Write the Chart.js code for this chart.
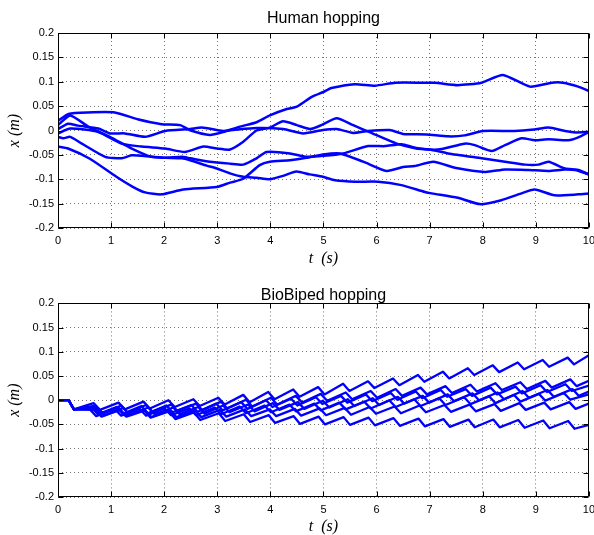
<!DOCTYPE html>
<html>
<head>
<meta charset="utf-8">
<script src="https://cdn.jsdelivr.net/npm/chart.js@4.4.0/dist/chart.umd.min.js"></script>
<style>
  html, body { margin: 0; padding: 0; background: #fff; overflow: hidden; }
  .box { position: absolute; left: 0; width: 601px; height: 270px; }
</style>
</head>
<body>
<div class="box" style="top:0"><canvas id="human" width="601" height="270"></canvas></div>
<div class="box" style="top:268px"><canvas id="biped" width="601" height="270"></canvas></div>
<script>
// =====================
// 資料
// =====================
const timeTicks = [0, 1, 2, 3, 4, 5, 6, 7, 8, 9, 10];
const posTicks = [-0.2, -0.15, -0.1, -0.05, 0, 0.05, 0.1, 0.15, 0.2];
const posTickLabels = ['-0.2', '-0.15', '-0.1', '-0.05', '0', '0.05', '0.1', '0.15', '0.2'];

// Human hopping: [t, x]
const humanA = [[0,0.020],[0.2,0.034],[0.55,0.037],[1.07,0.037],[1.5,0.023],[1.95,0.013],[2.3,0.011],[2.5,0.0],[2.86,-0.009],[3.11,-0.003],[3.43,0.008],[3.74,0.017],[3.99,0.031],[4.31,0.044],[4.5,0.049],[4.78,0.069],[5.0,0.079],[5.15,0.087],[5.59,0.095],[5.97,0.092],[6.35,0.098],[6.91,0.098],[7.1,0.098],[7.53,0.093],[7.98,0.098],[8.38,0.114],[8.89,0.09],[9.3,0.098],[9.51,0.098],[9.8,0.09],[10,0.081]];
const humanB = [[0,0.003],[0.19,0.014],[0.38,0.010],[0.76,0.004],[0.98,-0.006],[1.26,-0.006],[1.64,-0.013],[2.02,-0.001],[2.49,0.003],[2.71,0.006],[3.11,-0.001],[3.3,0.001],[3.74,0.005],[4.24,0.003],[4.62,-0.006],[4.99,0.001],[5.25,0.003],[5.56,-0.005],[5.84,-0.001],[6.25,0.001],[6.5,-0.007],[6.94,-0.008],[7.35,-0.012],[7.66,-0.010],[8.0,-0.001],[8.6,-0.001],[8.97,0.002],[9.24,0.006],[9.55,-0.001],[9.75,-0.004],[10,-0.003]];
const humanC = [[0,-0.006],[0.23,0.004],[0.76,-0.003],[1.2,-0.027],[1.58,-0.033],[2.02,-0.037],[2.39,-0.044],[2.74,-0.033],[2.99,-0.037],[3.24,-0.039],[3.49,-0.023],[3.74,0.0],[3.99,0.006],[4.24,0.019],[4.5,0.011],[4.75,0.003],[4.96,0.011],[5.25,0.025],[5.56,0.011],[5.88,-0.004],[6.38,-0.027],[6.75,-0.037],[7.04,-0.040],[7.35,-0.047],[7.98,-0.057],[8.42,-0.064],[8.8,-0.070],[9.05,-0.070],[9.24,-0.064],[9.55,-0.078],[9.8,-0.081],[10,-0.090]];
const humanD = [[0,-0.013],[0.1,-0.016],[0.23,-0.013],[0.45,-0.027],[0.89,-0.054],[1.2,-0.057],[1.39,-0.051],[1.76,-0.054],[2.02,-0.056],[2.33,-0.054],[2.49,-0.057],[2.86,-0.064],[3.24,-0.068],[3.49,-0.070],[3.74,-0.057],[3.93,-0.044],[4.37,-0.047],[4.68,-0.054],[5.0,-0.052],[5.37,-0.047],[5.84,-0.032],[6.16,-0.032],[6.47,-0.028],[6.75,-0.036],[7.16,-0.039],[7.66,-0.027],[7.85,-0.030],[8.17,-0.042],[8.42,-0.030],[8.73,-0.016],[8.98,-0.020],[9.24,-0.018],[9.61,-0.020],[9.8,-0.014],[10,-0.003]];
const humanE = [[0,-0.033],[0.19,-0.037],[0.6,-0.058],[1.1,-0.095],[1.4,-0.115],[1.64,-0.127],[1.95,-0.131],[2.36,-0.121],[2.99,-0.116],[3.24,-0.107],[3.49,-0.099],[3.8,-0.071],[3.99,-0.064],[4.37,-0.061],[4.68,-0.056],[4.99,-0.049],[5.31,-0.047],[5.75,-0.064],[6.19,-0.083],[6.5,-0.075],[6.72,-0.073],[7.07,-0.064],[7.5,-0.077],[8.05,-0.085],[8.42,-0.080],[8.86,-0.081],[9.24,-0.083],[9.55,-0.080],[9.74,-0.081],[10,-0.090]];
const humanF = [[0,0.011],[0.23,0.031],[0.57,0.008],[1.01,-0.015],[1.39,-0.037],[1.76,-0.054],[2.02,-0.056],[2.33,-0.057],[2.49,-0.061],[2.8,-0.072],[2.99,-0.078],[3.24,-0.088],[3.49,-0.095],[3.74,-0.097],[3.99,-0.100],[4.24,-0.093],[4.49,-0.084],[4.74,-0.090],[4.99,-0.095],[5.22,-0.102],[5.6,-0.105],[6.03,-0.105],[6.47,-0.112],[6.91,-0.126],[7.04,-0.129],[7.53,-0.138],[7.95,-0.151],[8.35,-0.143],[8.7,-0.130],[8.98,-0.121],[9.35,-0.133],[9.8,-0.131],[10,-0.129]];

// BioBiped hopping: 每次跳躍的最高點 / 落地點
const hopStartT = [0, 0.2, 0.3];
const hopStartX = [0, 0, -0.019];
const hopPeakT = [0.67, 1.14, 1.61, 2.08, 2.55, 3.02, 3.49, 3.96, 4.43, 4.90, 5.37, 5.84, 6.31, 6.78, 7.25, 7.72, 8.19, 8.66, 9.13, 9.60];
const hopLandT = [0.79, 1.26, 1.73, 2.20, 2.67, 3.14, 3.61, 4.08, 4.55, 5.02, 5.49, 5.96, 6.43, 6.90, 7.37, 7.84, 8.31, 8.78, 9.25, 9.72];
const hopShift = [0, 0.05, -0.04, 0.09, -0.07, 0.03, 0.01];

const bio1Peak = [-0.006,-0.005,-0.003,0.000,0.002,0.005,0.011,0.017,0.022,0.027,0.034,0.039,0.045,0.052,0.059,0.066,0.072,0.078,0.083,0.088];
const bio1Land = [-0.020,-0.019,-0.017,-0.014,-0.012,-0.009,-0.004,0.002,0.007,0.012,0.019,0.025,0.031,0.038,0.045,0.052,0.058,0.064,0.069,0.074];
const bio2Peak = [-0.013,-0.011,-0.010,-0.009,-0.007,-0.003,0.001,0.005,0.009,0.013,0.016,0.019,0.023,0.026,0.029,0.032,0.035,0.037,0.040,0.043];
const bio2Land = [-0.027,-0.026,-0.024,-0.022,-0.021,-0.017,-0.013,-0.009,-0.005,-0.001,0.002,0.005,0.009,0.012,0.015,0.018,0.021,0.023,0.026,0.029];
const bio3Peak = [-0.015,-0.014,-0.012,-0.011,-0.010,-0.007,-0.004,0.000,0.003,0.006,0.009,0.012,0.015,0.018,0.021,0.023,0.026,0.028,0.031,0.033];
const bio3Land = [-0.029,-0.028,-0.027,-0.025,-0.024,-0.021,-0.018,-0.014,-0.011,-0.008,-0.005,-0.002,0.001,0.004,0.007,0.009,0.012,0.014,0.017,0.019];
const bio4Peak = [-0.017,-0.016,-0.015,-0.015,-0.014,-0.011,-0.009,-0.006,-0.004,-0.001,0.002,0.004,0.007,0.009,0.012,0.014,0.016,0.019,0.021,0.023];
const bio4Land = [-0.031,-0.030,-0.029,-0.029,-0.028,-0.025,-0.023,-0.020,-0.018,-0.015,-0.012,-0.010,-0.007,-0.005,-0.002,0.000,0.002,0.005,0.007,0.009];
const bio5Peak = [-0.019,-0.018,-0.018,-0.017,-0.017,-0.015,-0.013,-0.011,-0.009,-0.007,-0.005,-0.003,0.000,0.002,0.004,0.006,0.008,0.011,0.013,0.015];
const bio5Land = [-0.033,-0.032,-0.032,-0.031,-0.031,-0.029,-0.027,-0.025,-0.023,-0.021,-0.019,-0.017,-0.014,-0.012,-0.010,-0.008,-0.006,-0.003,-0.001,0.001];
const bio6Peak = [-0.020,-0.020,-0.021,-0.021,-0.021,-0.020,-0.019,-0.019,-0.018,-0.017,-0.016,-0.014,-0.013,-0.011,-0.010,-0.009,-0.008,-0.006,-0.005,-0.004];
const bio6Land = [-0.034,-0.034,-0.035,-0.035,-0.035,-0.034,-0.033,-0.033,-0.032,-0.031,-0.030,-0.028,-0.027,-0.025,-0.024,-0.023,-0.022,-0.020,-0.019,-0.018];
const bio7Peak = [-0.012,-0.016,-0.020,-0.023,-0.025,-0.027,-0.029,-0.031,-0.033,-0.034,-0.035,-0.036,-0.037,-0.038,-0.039,-0.040,-0.040,-0.041,-0.042,-0.043];
const bio7Land = [-0.028,-0.032,-0.036,-0.039,-0.041,-0.043,-0.045,-0.047,-0.049,-0.050,-0.051,-0.052,-0.053,-0.054,-0.055,-0.056,-0.056,-0.057,-0.058,-0.059];
const bioEnd = [0.093, 0.040, 0.030, 0.018, 0.012, -0.007, -0.051];

// =====================
// 樣式
// =====================
const LINE_BLUE = '#0000ff';
const tickFont = { family: 'Liberation Sans, Arial, sans-serif', size: 11 };
const labelFont = { family: 'Liberation Serif, Times New Roman, serif', size: 16, style: 'italic' };

function toPoints(pairs) {
  return pairs.map(p => ({ x: p[0], y: p[1] }));
}

function hopPoints(k, peaks, lands) {
  const pts = hopStartT.map((t, i) => ({ x: t, y: hopStartX[i] }));
  peaks.forEach((v, i) => {
    pts.push({ x: hopPeakT[i] + hopShift[k], y: v });
    pts.push({ x: hopLandT[i] + hopShift[k], y: lands[i] });
  });
  pts.push({ x: 10, y: bioEnd[k] });
  return pts;
}

function lineSet(points, width, tension) {
  return {
    data: points,
    borderColor: LINE_BLUE,
    borderWidth: width,
    pointRadius: 0,
    tension: tension,
    fill: false,
    borderJoinStyle: 'round',
    borderCapStyle: 'round',
  };
}

// 外框 + 向內的刻度線 (MATLAB 風格)
const framePlugin = {
  id: 'frame',
  afterDraw(chart) {
    const { ctx, chartArea: a, scales: { x, y } } = chart;
    const L = Math.round(a.left) + 0.5, R = Math.round(a.right) - 0.5;
    const T = Math.round(a.top) + 0.5, B = Math.round(a.bottom) - 0.5;
    ctx.save();
    ctx.strokeStyle = '#000';
    ctx.lineWidth = 1;
    ctx.beginPath();
    ctx.rect(L, T, R - L, B - T);
    x.ticks.forEach(t => {
      const px = Math.round(x.getPixelForValue(t.value)) + 0.5;
      ctx.moveTo(px, B); ctx.lineTo(px, B - 5);
      ctx.moveTo(px, T); ctx.lineTo(px, T + 5);
    });
    y.ticks.forEach(t => {
      const py = Math.round(y.getPixelForValue(t.value)) + 0.5;
      ctx.moveTo(L, py); ctx.lineTo(L + 5, py);
      ctx.moveTo(R, py); ctx.lineTo(R - 5, py);
    });
    ctx.stroke();
    ctx.restore();
  }
};

function makeChart(id, titleText, datasets, titlePad, xAxisHeight) {
  return new Chart(document.getElementById(id), {
    type: 'line',
    data: { datasets },
    options: {
      responsive: false,
      animation: false,
      devicePixelRatio: 1,
      layout: { padding: 0 },
      plugins: {
        legend: { display: false },
        tooltip: { enabled: false },
        title: {
          display: true,
          text: titleText,
          fullSize: false,
          color: '#000',
          font: { family: 'Liberation Sans, Arial, sans-serif', size: 16, weight: 'normal', lineHeight: 1 },
          padding: titlePad,
        },
      },
      scales: {
        x: {
          type: 'linear',
          min: 0,
          max: 10,
          afterBuildTicks: s => { s.ticks = timeTicks.map(v => ({ value: v })); },
          afterFit: s => { s.height = xAxisHeight; },
          ticks: { font: tickFont, color: '#000', padding: 6, maxRotation: 0, autoSkip: false, callback: v => String(v) },
          grid: { color: 'rgba(0,0,0,0.55)', lineWidth: 1, drawTicks: false },
          border: { display: false, dash: [1, 3] },
          title: { display: true, text: 't  (s)', font: labelFont, color: '#000', padding: { top: 0, bottom: 1.2 } },
        },
        y: {
          type: 'linear',
          min: -0.2,
          max: 0.2,
          afterBuildTicks: s => { s.ticks = posTicks.map(v => ({ value: v })); },
          afterFit: s => { s.width = 58; },
          ticks: { font: tickFont, color: '#000', padding: 4, autoSkip: false, callback: (v, i) => posTickLabels[i] },
          grid: { color: 'rgba(0,0,0,0.55)', lineWidth: 1, drawTicks: false },
          border: { display: false, dash: [1, 3] },
          title: { display: true, text: 'x (m)', font: labelFont, color: '#000', padding: { top: 5.4, bottom: 0 } },
        },
      },
    },
    plugins: [framePlugin],
  });
}

// =====================
// 上圖: Human hopping
// =====================
makeChart('human', 'Human hopping',
  [humanA, humanB, humanC, humanD, humanE, humanF].map(s => lineSet(toPoints(s), 2.5, 0.2)),
  { top: 10.4, bottom: 6.6 }, 42);

// =====================
// 下圖: BioBiped hopping
// =====================
const bioPeaks = [bio1Peak, bio2Peak, bio3Peak, bio4Peak, bio5Peak, bio6Peak, bio7Peak];
const bioLands = [bio1Land, bio2Land, bio3Land, bio4Land, bio5Land, bio6Land, bio7Land];
makeChart('biped', 'BioBiped hopping',
  bioPeaks.map((p, k) => lineSet(hopPoints(k, p, bioLands[k]), 2.3, 0)),
  { top: 19.4, bottom: 0 }, 41);
</script>
</body>
</html>
